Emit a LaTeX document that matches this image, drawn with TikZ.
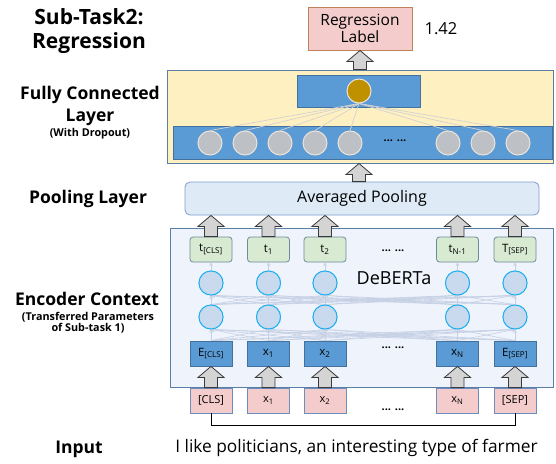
\documentclass[tikz,border=0pt]{standalone}
\usepackage{fontspec}
\setmainfont{Open Sans}
\usetikzlibrary{calc,arrows.meta}

\definecolor{fcfill}{HTML}{FFF0C2}
\definecolor{frame}{HTML}{5A7EA6}
\definecolor{barblue}{HTML}{5B9BD5}
\definecolor{barline}{HTML}{41719C}
\definecolor{goldc}{HTML}{BF9000}
\definecolor{grayc}{HTML}{BDC0C4}
\definecolor{grayline}{HTML}{EDE3D8}
\definecolor{poolfill}{HTML}{DEEBF7}
\definecolor{poolline}{HTML}{7C9DC8}
\definecolor{encfill}{HTML}{EFF3FB}
\definecolor{tfill}{HTML}{D9EAD3}
\definecolor{tline}{HTML}{6C8C9C}
\definecolor{cfill}{HTML}{C9DAEF}
\definecolor{cline}{HTML}{1BAFF0}
\definecolor{pinkfill}{HTML}{F4CCCC}
\definecolor{pinkline}{HTML}{6C8EBF}
\definecolor{regline}{HTML}{C0805A}
\definecolor{linkc}{HTML}{C5D0E5}
\definecolor{fclinkc}{HTML}{D2D2D2}
\definecolor{arrfill}{HTML}{D4D4D4}
\definecolor{arrline}{HTML}{3A3A3A}

% hollow block arrow pointing up, from #1 (bottom) to #2 (tip)
\newcommand\blockup[2]{%
  \draw[blockarrow] let \p1=(#1), \p2=(#2) in
    (\x1-6.5pt,\y1) -- (\x1-6.5pt,\y2-11pt) -- (\x1-13pt,\y2-11pt) -- (\x1,\y2)
    -- (\x1+13pt,\y2-11pt) -- (\x1+6.5pt,\y2-11pt) -- (\x1+6.5pt,\y1) -- cycle;}

\begin{document}
\begin{tikzpicture}[x=1pt,y=-1pt,
  every node/.style={inner sep=0pt, text=black},
  sidelabel/.style={font=\bfseries\fontsize{17.5}{22}\selectfont, align=center},
  sidenote/.style={font=\bfseries\fontsize{10.8}{11.5}\selectfont, align=center},
  fcpanel/.style={draw=frame, line width=1pt, fill=fcfill},
  encpanel/.style={draw=frame, line width=1pt, fill=encfill},
  bar/.style={draw=barline, line width=0.8pt, fill=barblue},
  goldunit/.style={circle, minimum size=24pt, fill=goldc, draw=grayline, line width=1pt},
  grayunit/.style={circle, minimum size=24pt, fill=grayc, draw=grayline, line width=1pt},
  poolbox/.style={draw=poolline, line width=0.8pt, fill=poolfill, rounded corners=5pt,
    minimum width=354pt, minimum height=33pt, font=\fontsize{16}{18}\selectfont},
  tokbox/.style={draw=tline, line width=0.8pt, fill=tfill, rounded corners=3pt,
    minimum width=42pt, minimum height=25pt, font=\fontsize{11.5}{13}\selectfont},
  embbox/.style={draw=barline, line width=0.8pt, fill=barblue,
    minimum width=42pt, minimum height=25pt, font=\fontsize{11.5}{13}\selectfont},
  inbox/.style={draw=pinkline, line width=0.8pt, fill=pinkfill,
    minimum width=42pt, minimum height=25pt, font=\fontsize{11}{13}\selectfont},
  unit/.style={circle, minimum size=24pt, fill=cfill, draw=cline, line width=0.9pt},
  reglabel/.style={draw=regline, line width=0.9pt, fill=pinkfill, align=center,
    minimum width=104pt, minimum height=43pt, font=\fontsize{15.5}{17}\selectfont},
  enclink/.style={draw=linkc, line width=0.6pt, -{Stealth[length=3.5pt,width=3.5pt]}},
  fclink/.style={draw=fclinkc, line width=0.7pt},
  blockarrow/.style={draw=arrline, line width=0.8pt, fill=arrfill},
  dots/.style={font=\bfseries\fontsize{11}{13}\selectfont},
]
\useasboundingbox (0,0) rectangle (556,463);

% ---------------- side labels ----------------
\node[sidelabel, font=\bfseries\fontsize{21}{24}\selectfont] (lsub) at (89,31) {Sub-Task2:\\Regression};
\node[sidelabel] (lfc) at (90,106) {Fully Connected\\Layer};
\node[sidenote] (lfcn) at (90,134) {(With Dropout)};
\node[sidelabel] (lpool) at (88,199) {Pooling Layer};
\node[sidelabel] (lenc) at (87,299) {Encoder Context};
\node[sidenote] (lencn) at (88,322.5) {(Transferred Parameters\\of Sub-task 1)};
\node[sidelabel] (lin) at (79,449) {Input};

% ---------------- output ----------------
\node[reglabel] (reg) at (360,28.5) {Regression\\Label};
\node[font=\fontsize{16.5}{18}\selectfont] (val) at (441,29) {1.42};

% ---------------- fully connected layer ----------------
\node[fcpanel, minimum width=386pt, minimum height=93pt] (fc) at (360,116.5) {};
\node[bar, minimum width=123pt, minimum height=32pt] (obar) at (358.5,91) {};
\node[bar, minimum width=379pt, minimum height=33pt] (hbar) at (362.5,142.5) {};
\node[goldunit] (out) at (359,91) {};
\foreach \j/\x in {1/210,2/245,3/280,4/315,5/350,6/448,7/483,8/518}
  \node[grayunit] (h\j) at (\x,143) {};
\node[dots] (hdots) at (395,141) {... ...};
\foreach \j in {1,...,8}
  \draw[fclink] (out.south) -- (h\j.north);

% ---------------- pooling ----------------
\node[poolbox] (pool) at (362,198.5) {Averaged Pooling};

% ---------------- encoder ----------------
\node[encpanel, minimum width=383pt, minimum height=159pt] (enc) at (361.5,307.5) {};
\node[font=\fontsize{18}{20}\selectfont] (deberta) at (394,278) {DeBERTa};

\node[tokbox] (t1) at (211,249.5)   {t\textsubscript{[CLS]}};
\node[tokbox] (t2) at (268.5,249.5) {t\textsubscript{1}};
\node[tokbox] (t3) at (325,249.5)   {t\textsubscript{2}};
\node[tokbox] (t4) at (457.5,249.5) {t\textsubscript{N-1}};
\node[tokbox] (t5) at (515,249.5)   {T\textsubscript{[SEP]}};
\node[dots] (tdots) at (393,251) {... ...};

\foreach \i/\x in {1/211,2/268.5,3/325,4/457.5,5/515} {
  \node[unit] (a\i) at (\x,283) {};
  \node[unit] (b\i) at (\x,317) {};
}

\node[embbox] (e1) at (211,353.5)   {E\textsubscript{[CLS]}};
\node[embbox] (e2) at (268.5,353.5) {x\textsubscript{1}};
\node[embbox] (e3) at (325,353.5)   {x\textsubscript{2}};
\node[embbox] (e4) at (457.5,353.5) {x\textsubscript{N}};
\node[embbox] (e5) at (515,353.5)   {E\textsubscript{[SEP]}};
\node[dots] (edots) at (393,348) {... ...};

% attention links between layers
\foreach \p in {1,...,5} {
  \foreach \q in {1,...,5} {
    \draw[enclink] (e\p.north) -- (b\q.south);
    \draw[enclink] (b\p.north) -- (a\q.south);
  }
  \draw[enclink] (a\p.north) -- (t\p.south);
}
% redraw units above the links
\foreach \i/\x in {1/211,2/268.5,3/325,4/457.5,5/515} {
  \node[unit] at (\x,283) {};
  \node[unit] at (\x,317) {};
}

% ---------------- input tokens ----------------
\node[inbox] (in1) at (211,400.5)   {[CLS]};
\node[inbox] (in2) at (268.5,400.5) {x\textsubscript{1}};
\node[inbox] (in3) at (325,400.5)   {x\textsubscript{2}};
\node[inbox] (in4) at (457.5,400.5) {x\textsubscript{N}};
\node[inbox] (in5) at (515,400.5)   {[SEP]};
\node[dots] (indots) at (393,410) {... ...};

\draw[line width=0.8pt] (in1.south) -- ++(0,12) -| (in5.south);
\node[font=\fontsize{17.3}{19}\selectfont] (sent) at (356.5,448) {I like politicians, an interesting type of farmer};

% ---------------- block arrows ----------------
\foreach \i in {1,...,5} {
  \blockup{in\i.north}{e\i.south}
  \blockup{t\i.north}{pool.south}
}
\blockup{pool.north -| out}{fc.south}
\blockup{fc.north -| reg}{reg.south}
\end{tikzpicture}
\end{document}
